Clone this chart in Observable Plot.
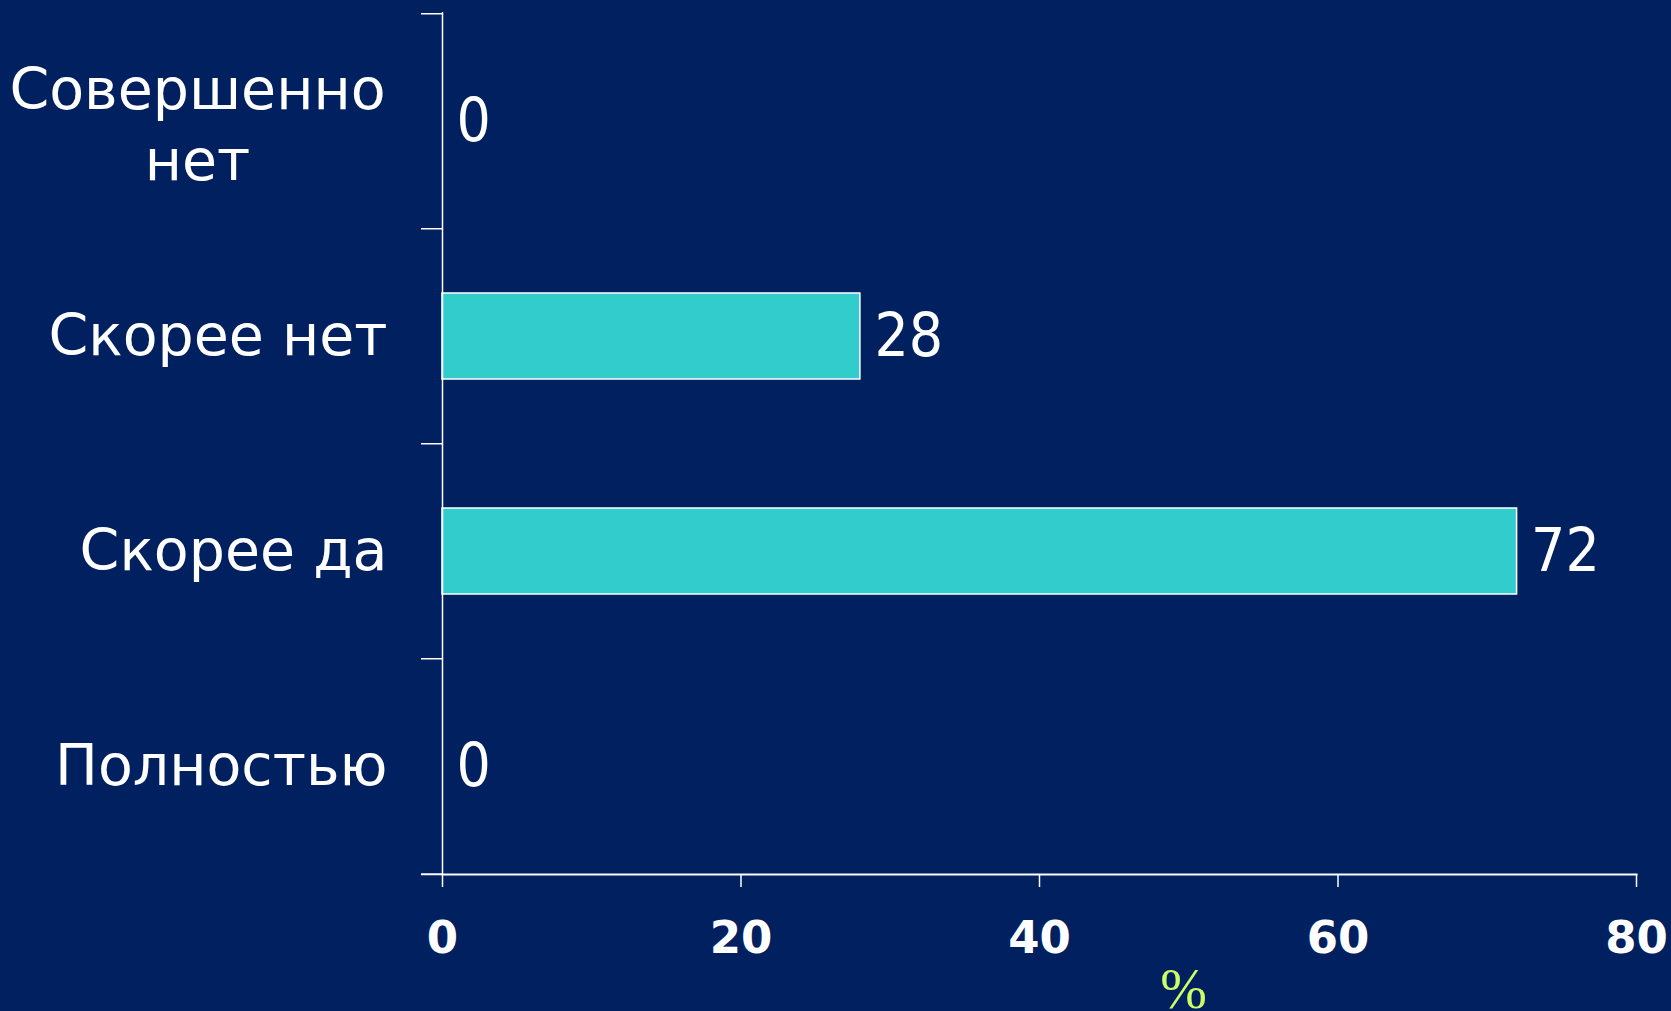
<!DOCTYPE html>
<html>
<head>
<meta charset="utf-8">
<script src="https://cdn.jsdelivr.net/npm/d3@7"></script>
<script src="https://cdn.jsdelivr.net/npm/@observablehq/plot@0.6"></script>
<style>
  html, body { margin: 0; padding: 0; background: #002060; }
  #chart svg { display: block; }
</style>
</head>
<body>
<div id="chart"></div>
<script>
// Data
const categories = ["Совершенно нет", "Скорее нет", "Скорее да", "Полностью"];
const values = [0, 28, 72, 0];
const xTicks = [0, 20, 40, 60, 80];
const axisUnit = "%";

const data = categories.map((c, i) => ({cat: c, value: values[i]}));

const W = 1671, H = 1011;
const mL = 442, mR = 35, mT = 12, mB = 137;
const step = (H - mT - mB) / categories.length;
const font = "DejaVu Sans";

const chart = Plot.plot({
  width: W,
  height: H,
  marginLeft: mL,
  marginRight: mR,
  marginTop: mT,
  marginBottom: mB,
  style: {background: "#002060", color: "white", fontFamily: font, overflow: "visible"},
  x: {domain: [0, 80], ticks: xTicks, label: null},
  y: {domain: categories, paddingInner: 0.6, paddingOuter: 0.3, label: null},
  marks: [
    Plot.barX(data, {x: "value", y: "cat", fill: "#33cccc", stroke: "white", strokeWidth: 1.5}),
    Plot.ruleX([0], {stroke: "white", strokeWidth: 1.5}),
    Plot.frame({anchor: "bottom", stroke: "white", strokeWidth: 2}),
    // y boundary ticks
    Plot.axisY({tickSize: 21, tickFormat: null, label: null, dy: -step / 2, stroke: "white", strokeWidth: 1.5, strokeOpacity: 1}),
    Plot.axisY([categories[categories.length - 1]], {tickSize: 21, tickFormat: null, label: null, dy: step / 2, stroke: "white", strokeWidth: 2, strokeOpacity: 1}),
    // x axis
    Plot.axisX(xTicks, {tickSize: 13, tickPadding: 34, fontSize: 45, fontWeight: "bold", stroke: "white", strokeWidth: 1.5, strokeOpacity: 1, fill: "white", label: null}),
    // category labels
    Plot.text(data.filter(d => d.cat !== "Совершенно нет"), {
      y: "cat", text: "cat", frameAnchor: "left", dx: -55, textAnchor: "end",
      fill: "white", fontSize: 57, fontFamily: font
    }),
    Plot.text(data.filter(d => d.cat === "Совершенно нет"), {
      y: "cat", text: d => d.cat.replace(" ", "\n"), frameAnchor: "left", dx: -245, textAnchor: "middle",
      lineHeight: 1.25, fill: "white", fontSize: 57, fontFamily: font
    }),
    // value labels
    Plot.text(data, {
      x: "value", y: "cat", text: d => String(d.value), textAnchor: "start", dx: 14,
      fill: "white", fontSize: 60, fontFamily: "DejaVu Sans Condensed, DejaVu Sans", fontStretch: "condensed"
    }),
    // unit label
    Plot.text([axisUnit], {
      text: d => d, frameAnchor: "bottom", dx: 144, dy: 133,
      fill: "#ccff66", fontSize: 56, fontFamily: "Liberation Serif, serif"
    })
  ]
});

document.getElementById("chart").appendChild(chart);
</script>
</body>
</html>
